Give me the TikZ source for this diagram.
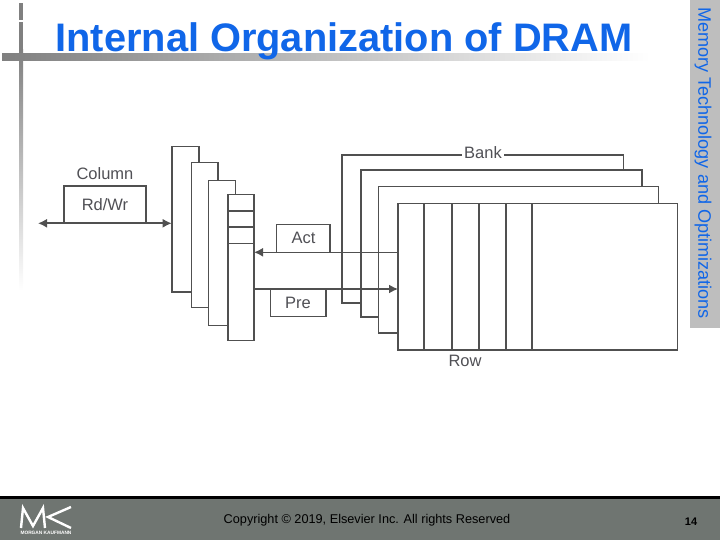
\documentclass[tikz,border=0pt]{standalone}
\usepackage{fontspec}
\setmainfont{Liberation Sans}
\definecolor{titleblue}{RGB}{16, 102, 232}
\definecolor{sidegray}{RGB}{190, 190, 190}
\definecolor{footgray}{RGB}{111, 117, 113}
\definecolor{linegray}{RGB}{80, 80, 80}
\definecolor{labelgray}{RGB}{80, 80, 85}
\definecolor{bargray}{RGB}{128, 128, 128}
\usetikzlibrary{arrows.meta, calc}

\begin{document}
\begin{tikzpicture}[
  x=1pt, y=-1pt,
  cell/.style={draw=linegray, fill=white, line width=1.6pt, anchor=north west, inner sep=0pt, outer sep=0pt},
  rowline/.style={draw=linegray, line width=1.6pt},
  busline/.style={draw=linegray, line width=1.6pt, -{Latex[length=9pt, width=9pt]}},
  lbl/.style={text=labelgray, font=\fontsize{16.5}{18}\selectfont, inner sep=0pt}
]
  \useasboundingbox (0, 0) rectangle (720, 540);
  % header bars and footer
  \shade[top color=bargray, bottom color=white] (19, 50) rectangle (23, 290);
  \fill[bargray] (19, 3) rectangle (23, 51);
  \fill[white] (19, 20.5) rectangle (23, 22);
  \shade[left color=bargray, right color=white] (2, 54) rectangle (650, 61);
  \node[text=titleblue, anchor=base, font=\bfseries\fontsize{39.8}{42}\selectfont, inner sep=0pt] (title) at (344, 52) {Internal Organization of DRAM};
  \fill[sidegray] (690, 0) rectangle (720, 328);
  \node[text=titleblue, rotate=-90, font=\fontsize{18.1}{20}\selectfont, inner sep=0pt] (sidetext) at (703, 163) {Memory Technology and Optimizations};
  \fill[footgray] (0, 497) rectangle (720, 540);
  \fill[black] (0, 496) rectangle (720, 499);
  \node[font=\fontsize{12.7}{14}\selectfont, inner sep=0pt] (copyright) at (367, 520) {Copyright © 2019, Elsevier Inc. All rights Reserved};
  \node[font=\bfseries\fontsize{11}{12}\selectfont, inner sep=0pt] (pagenum) at (691, 522) {14};
  \draw[white, line width=2.4pt] (21, 528) -- (23, 508) -- (33, 526) -- (43, 508) -- (45, 528);
  \draw[white, line width=2.4pt] (71, 507) -- (48, 517) -- (71, 528);
  \node[text=white, font=\bfseries\fontsize{4.8}{5}\selectfont, inner sep=0pt] (logotext) at (46, 533) {MORGAN KAUFMANN};
  % row decoder stack
  \node[cell, minimum width=27.3pt, minimum height=145.3pt] (decA) at (171.7, 146.7) {};
  \node[cell, minimum width=26.4pt, minimum height=144.6pt] (decB) at (191.3, 162.7) {};
  \node[cell, minimum width=27pt, minimum height=144.6pt] (decC) at (208.3, 180.7) {};
  \node[cell, minimum width=26.3pt, minimum height=145.6pt] (decD) at (227.7, 194.7) {};
  \draw[rowline] ($(decD.north west)+(0, 16.3)$) -- ($(decD.north east)+(0, 16.3)$);
  \draw[rowline] ($(decD.north west)+(0, 32.6)$) -- ($(decD.north east)+(0, 32.6)$);
  \draw[rowline] ($(decD.north west)+(0, 48.6)$) -- ($(decD.north east)+(0, 48.6)$);
  % banks
  \node[cell, minimum width=281.6pt, minimum height=147.7pt] (bankA) at (341.7, 155) {};
  \node[cell, minimum width=281pt, minimum height=146.7pt] (bankB) at (361, 170) {};
  \node[cell, minimum width=280pt, minimum height=146pt] (bankC) at (378.3, 186.7) {};
  \node[cell, minimum width=279.3pt, minimum height=146.3pt] (bankD) at (398, 203.7) {};
  \draw[rowline] ($(bankD.north west)+(26, 0)$) -- ($(bankD.south west)+(26, 0)$);
  \draw[rowline] ($(bankD.north west)+(53.7, 0)$) -- ($(bankD.south west)+(53.7, 0)$);
  \draw[rowline] ($(bankD.north west)+(80.7, 0)$) -- ($(bankD.south west)+(80.7, 0)$);
  \draw[rowline] ($(bankD.north west)+(108, 0)$) -- ($(bankD.south west)+(108, 0)$);
  \draw[rowline] ($(bankD.north west)+(134, 0)$) -- ($(bankD.south west)+(134, 0)$);
  % control boxes
  \node[cell, minimum width=82.3pt, minimum height=37pt] (rdwr) at (63.7, 186.3) {};
  \node[lbl] (rdwrlabel) at (105, 204.5) {Rd/Wr};
  \node[lbl] (column) at (105, 174) {Column};
  \node[cell, minimum width=53.7pt, minimum height=27.6pt] (act) at (276.3, 224.7) {};
  \node[lbl] (actlabel) at (303.5, 238) {Act};
  \node[cell, minimum width=55.4pt, minimum height=27.3pt] (pre) at (270.3, 289) {};
  \node[lbl] (prelabel) at (298, 302.5) {Pre};
  \node[lbl, fill=white, inner xsep=2pt, inner ysep=1pt] (bank) at (483, 153) {Bank};
  \node[lbl] (row) at (465, 361) {Row};
  % connectors
  \coordinate (colend) at (38, 223.3);
  \draw[busline, {Latex[length=9pt, width=9pt]}-{Latex[length=9pt, width=9pt]}] (colend) -- (colend -| decA.west);
  \draw[busline] (bankD.west |- act.south) -- (decD.east |- act.south);
  \draw[busline] (decD.east |- pre.north) -- (bankD.west |- pre.north);
\end{tikzpicture}
\end{document}
